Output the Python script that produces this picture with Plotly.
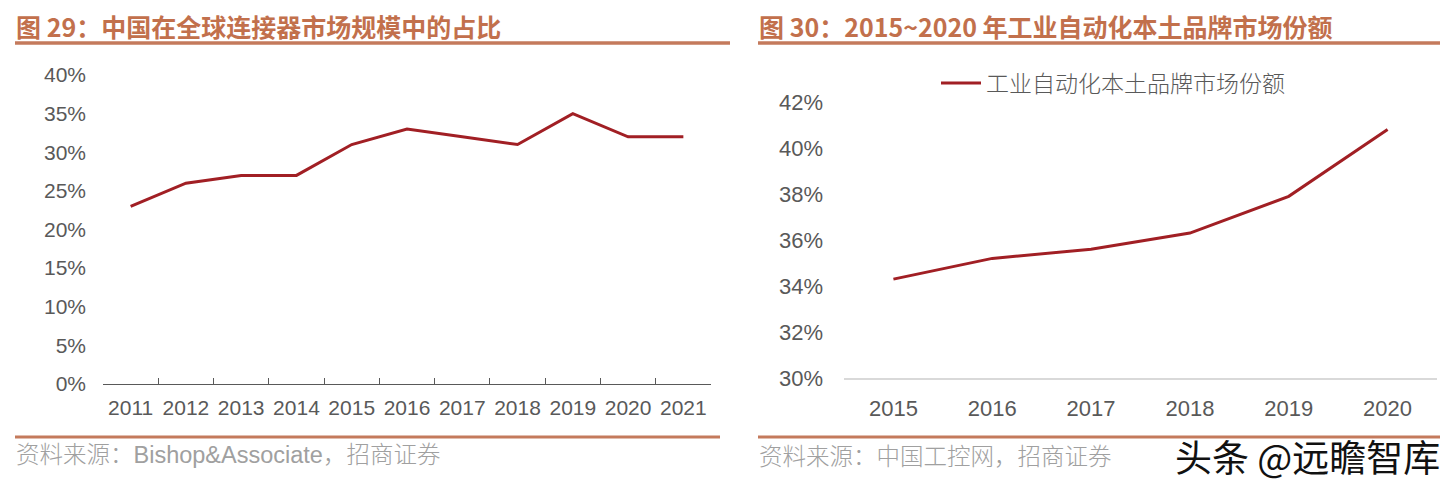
import plotly.graph_objects as go

# page body adds an 8px margin; size the figure so it fills the window exactly
OX, OY = 8, 8
W, H = 1453 - OX, 487 - OY

# ---- data ----
left_years = ["2011", "2012", "2013", "2014", "2015", "2016", "2017", "2018", "2019", "2020", "2021"]
left_share = [23, 26, 27, 27, 31, 33, 32, 31, 35, 32, 32]

right_years = ["2015", "2016", "2017", "2018", "2019", "2020"]
right_share = [34.3, 35.2, 35.6, 36.3, 37.9, 40.8]

left_title = "图 29：中国在全球连接器市场规模中的占比"
right_title = "图 30：2015~2020 年工业自动化本土品牌市场份额"
left_source = "资料来源：Bishop&Associate，招商证券"
right_source = "资料来源：中国工控网，招商证券"
legend_name = "工业自动化本土品牌市场份额"
watermark = "头条 @远瞻智库"

LINE = "#A11F24"
TITLE = "#C2704C"
RULE = "#C47A5C"
TICK = "#595959"


def px(x):
    return (x - OX) / W


def py(y):
    return 1 - (y - OY) / H


fig = go.Figure()

fig.add_trace(go.Scatter(
    x=left_years, y=left_share, mode="lines",
    line=dict(color=LINE, width=3), showlegend=False,
    xaxis="x", yaxis="y",
))
fig.add_trace(go.Scatter(
    x=right_years, y=right_share, mode="lines",
    line=dict(color=LINE, width=3), name=legend_name, showlegend=True,
    xaxis="x2", yaxis="y2",
))

tickfont_l = dict(family="Liberation Sans, Arial, sans-serif", size=21, color=TICK)
tickfont_r = dict(family="Liberation Sans, Arial, sans-serif", size=22, color=TICK)

fig.update_layout(
    width=W, height=H,
    margin=dict(l=0, r=0, t=0, b=0, autoexpand=False),
    paper_bgcolor="white", plot_bgcolor="white",
    xaxis=dict(
        domain=[px(103), px(711)], anchor="y", type="category", automargin=False,
        range=[-0.5, 10.5], showgrid=False, zeroline=False,
        showline=True, linecolor=TICK, linewidth=1.2,
        ticks="inside", tickson="boundaries", ticklen=6, tickcolor=TICK, tickwidth=1.2,
        tickfont=tickfont_l, ticklabelstandoff=5, tickangle=0,
    ),
    yaxis=dict(
        domain=[py(384), py(75)], anchor="x", automargin=False,
        range=[0, 40], dtick=5, ticksuffix="%",
        showgrid=False, zeroline=False, showline=False, ticks="",
        tickfont=tickfont_l, ticklabelstandoff=16,
    ),
    xaxis2=dict(
        domain=[px(844), px(1437)], anchor="y2", type="category", automargin=False,
        range=[-0.5, 5.5], showgrid=False, zeroline=False,
        showline=True, linecolor="#D9D9D9", linewidth=1.5, ticks="",
        tickfont=tickfont_r, ticklabelstandoff=10, tickangle=0,
    ),
    yaxis2=dict(
        domain=[py(378), py(102)], anchor="x2", automargin=False,
        range=[30, 42], dtick=2, ticksuffix="%",
        showgrid=False, zeroline=False, showline=False, ticks="",
        tickfont=tickfont_r, ticklabelstandoff=20,
    ),
    legend=dict(
        x=px(936), y=py(83), xanchor="left", yanchor="middle",
        bgcolor="rgba(0,0,0,0)",
        font=dict(family="Noto Sans CJK SC", size=23, color=TICK, weight=300),
        itemwidth=40,
    ),
    shapes=[
        dict(type="line", xref="paper", yref="paper", x0=px(15), x1=px(730), y0=py(43), y1=py(43),
             line=dict(color=RULE, width=3.5)),
        dict(type="line", xref="paper", yref="paper", x0=px(758), x1=px(1440), y0=py(43), y1=py(43),
             line=dict(color=RULE, width=3.5)),
        dict(type="line", xref="paper", yref="paper", x0=px(15), x1=px(720), y0=py(437), y1=py(437),
             line=dict(color=RULE, width=3)),
        dict(type="line", xref="paper", yref="paper", x0=px(758), x1=px(1440), y0=py(437), y1=py(437),
             line=dict(color=RULE, width=3)),
    ],
    annotations=[
        dict(text="<b>" + left_title + "</b>", xref="paper", yref="paper", x=px(14), y=py(26),
             xanchor="left", yanchor="middle", showarrow=False,
             font=dict(family="Noto Sans CJK SC", size=25, color=TITLE)),
        dict(text="<b>" + right_title + "</b>", xref="paper", yref="paper", x=px(757), y=py(26),
             xanchor="left", yanchor="middle", showarrow=False,
             font=dict(family="Noto Sans CJK SC", size=25, color=TITLE)),
        dict(text=left_source, xref="paper", yref="paper", x=px(14), y=py(455),
             xanchor="left", yanchor="middle", showarrow=False,
             font=dict(family="Liberation Sans, Noto Sans CJK SC", size=23.5, color="#A0A0A0", weight=300)),
        dict(text=right_source, xref="paper", yref="paper", x=px(757), y=py(455),
             xanchor="left", yanchor="middle", showarrow=False,
             font=dict(family="Noto Sans CJK SC", size=23.5, color="#A0A0A0", weight=300)),
        dict(text=watermark, xref="paper", yref="paper", x=px(1442), y=py(456),
             xanchor="right", yanchor="middle", showarrow=False,
             font=dict(family="Noto Sans CJK SC", size=37, color="#111111")),
    ],
)

fig.write_html("out.html")
